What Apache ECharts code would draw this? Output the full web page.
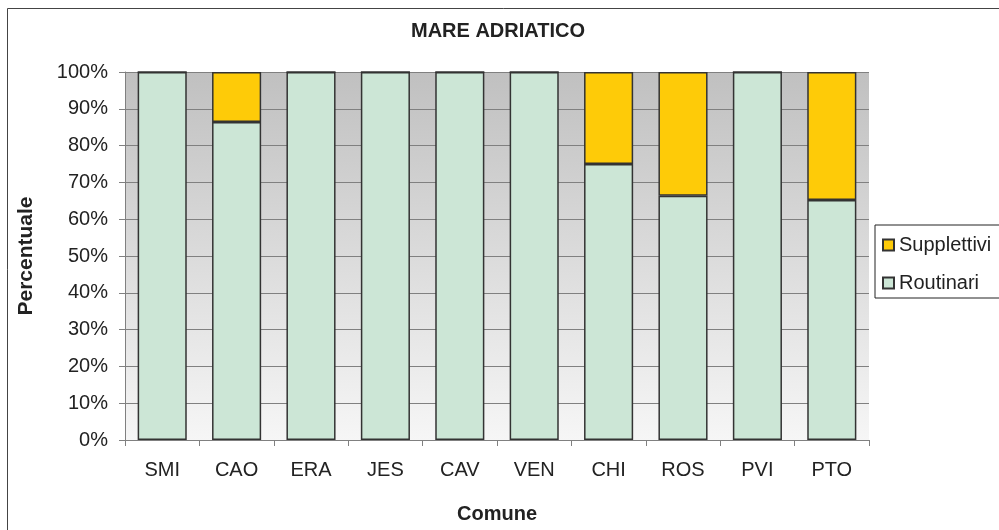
<!DOCTYPE html>
<html>
<head>
<meta charset="utf-8">
<script src="https://cdn.jsdelivr.net/npm/echarts@6/dist/echarts.min.js"></script>
<style>
  html, body { margin: 0; padding: 0; background: #fff; }
  #chart { width: 999px; height: 530px; }
</style>
</head>
<body>
<div id="chart"></div>
<script>
const comuni = ['SMI', 'CAO', 'ERA', 'JES', 'CAV', 'VEN', 'CHI', 'ROS', 'PVI', 'PTO']
const routinari = [100, 86.4, 100, 100, 100, 100, 75, 66.4, 100, 65.2]
const supplettivi = [0, 13.6, 0, 0, 0, 0, 25, 33.6, 0, 34.8]
const yTicks = [0, 10, 20, 30, 40, 50, 60, 70, 80, 90, 100]

const font = 'Liberation Sans, Arial, sans-serif'
const chart = echarts.init(document.getElementById('chart'), null, { renderer: 'canvas' })

const barStyle = (color) => ({
  color,
  borderColor: '#333',
  borderWidth: 1.5
})

chart.setOption({
  animation: false,
  backgroundColor: '#fff',
  textStyle: { fontFamily: font },
  title: {
    text: 'MARE ADRIATICO',
    left: 493,
    textAlign: 'center',
    top: 16,
    textStyle: { fontSize: 20, fontWeight: 'bold', color: '#222', fontFamily: font }
  },
  graphic: [{
    type: 'rect',
    shape: { x: 7.5, y: 8.5, width: 1100, height: 600 },
    style: { fill: 'none', stroke: '#444', lineWidth: 1 },
    z: -1
  }],
  legend: {
    orient: 'vertical',
    left: 875,
    top: 225,
    data: ['Supplettivi', 'Routinari'],
    icon: 'rect',
    itemWidth: 11,
    itemHeight: 11,
    itemGap: 18,
    padding: [10, 60, 5, 7],
    backgroundColor: '#fff',
    borderColor: '#222',
    borderWidth: 1,
    textStyle: { fontSize: 20, color: '#222', fontFamily: font }
  },
  grid: {
    left: 125,
    right: 130,
    top: 72,
    bottom: 90,
    show: true,
    borderWidth: 0,
    backgroundColor: {
      type: 'linear', x: 0, y: 0, x2: 0, y2: 1,
      colorStops: [
        { offset: 0, color: '#c0c0c0' },
        { offset: 1, color: '#f6f6f6' }
      ]
    }
  },
  xAxis: {
    type: 'category',
    data: comuni,
    name: 'Comune',
    nameLocation: 'middle',
    nameGap: 64,
    nameTextStyle: { fontSize: 20, fontWeight: 'bold', color: '#222', fontFamily: font },
    axisLine: { lineStyle: { color: '#808080', width: 1 } },
    axisTick: { show: true, alignWithLabel: false, length: 6, lineStyle: { color: '#808080' } },
    axisLabel: { fontSize: 20, color: '#222', margin: 20, fontFamily: font }
  },
  yAxis: {
    type: 'value',
    min: 0,
    max: 100,
    interval: 10,
    name: 'Percentuale',
    nameLocation: 'middle',
    nameRotate: 90,
    nameGap: 88,
    nameTextStyle: { fontSize: 21, fontWeight: 'bold', color: '#222', fontFamily: font },
    axisLine: { show: true, lineStyle: { color: '#808080', width: 1 } },
    axisTick: { show: true, length: 6, lineStyle: { color: '#808080' } },
    axisLabel: {
      fontSize: 20, color: '#222', margin: 17, fontFamily: font,
      formatter: (v) => yTicks.includes(v) ? v + '%' : ''
    },
    splitLine: { show: true, lineStyle: { color: '#808080', width: 1 } }
  },
  series: [
    {
      name: 'Routinari',
      type: 'bar',
      stack: 'tot',
      barWidth: '66%',
      data: routinari,
      itemStyle: barStyle('#cce6d6')
    },
    {
      name: 'Supplettivi',
      type: 'bar',
      stack: 'tot',
      barWidth: '66%',
      data: supplettivi,
      itemStyle: barStyle('#fecb08')
    }
  ]
})
</script>
</body>
</html>
